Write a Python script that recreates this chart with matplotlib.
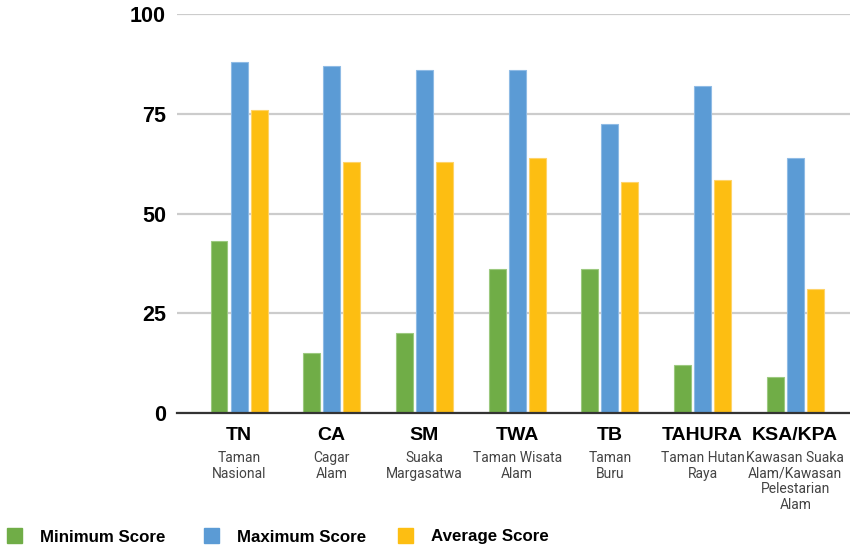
import matplotlib.pyplot as plt
import numpy as np
from matplotlib.patches import Rectangle

codes = ["TN", "CA", "SM", "TWA", "TB", "TAHURA", "KSA/KPA"]
names = [
    "Taman\nNasional",
    "Cagar\nAlam",
    "Suaka\nMargasatwa",
    "Taman Wisata\nAlam",
    "Taman\nBuru",
    "Taman Hutan\nRaya",
    "Kawasan Suaka\nAlam/Kawasan\nPelestarian\nAlam",
]
min_score = [43, 15, 20, 36, 36, 12, 9]
max_score = [88, 87, 86, 86, 72.5, 82, 64]
avg_score = [76, 63, 63, 64, 58, 58.5, 31]
series_labels = ["Minimum Score", "Maximum Score", "Average Score"]
yticks = [0, 25, 50, 75, 100]

colors = ["#70ad47", "#5b9bd5", "#fdbe12"]
edges = ["#9cc97f", "#8fbbe5", "#fed36a"]

W, H = 850, 549
fig = plt.figure(figsize=(8.5, 5.49), dpi=100)
ax = fig.add_axes([177 / W, (H - 413) / H, (850 - 177) / W, (413 - 14) / H])

x = np.arange(len(codes))
width = 0.183
step = 0.216
for i, (vals, c, e) in enumerate(zip([min_score, max_score, avg_score], colors, edges)):
    ax.bar(x + (i - 1) * step, vals, width=width, color=c, edgecolor=e,
           linewidth=0.8, zorder=3, label=series_labels[i])

ax.set_xlim(-0.669, 6.59)
ax.set_ylim(0, 100)
ax.set_yticks(yticks)
ax.set_yticklabels([str(t) for t in yticks], fontsize=15.5, fontweight="bold",
                   family="Liberation Sans")
ax.tick_params(axis="y", length=0, pad=8)
ax.set_xticks([])
ax.grid(axis="y", color="#cccccc", linewidth=1.6, zorder=0)
for s in ["top", "right", "left"]:
    ax.spines[s].set_visible(False)
ax.spines["bottom"].set_color("#333333")
ax.spines["bottom"].set_linewidth(1.6)
ax.spines["bottom"].set_zorder(4)

# category codes and full names under each group
for xi, code, name in zip(x, codes, names):
    ax.annotate(code, xy=(xi, 0), xycoords=("data", "axes fraction"),
                xytext=(0, -22), textcoords="offset pixels", ha="center", va="center",
                fontsize=14, fontweight="bold", family="Liberation Sans")
    ax.annotate(name, xy=(xi, 0), xycoords=("data", "axes fraction"),
                xytext=(0, -38), textcoords="offset pixels", ha="center", va="top",
                fontsize=10, color="#444444", family="Roboto", linespacing=1.15)

# legend along the bottom edge
legend_x = [7, 204, 398]
for lx, c, lab in zip(legend_x, colors, series_labels):
    fig.patches.append(Rectangle((lx / W, (H - 543) / H), 15 / W, 15 / H,
                                 transform=fig.transFigure, color=c))
    fig.text((lx + 33) / W, (H - 537) / H, lab, ha="left", va="center",
             fontsize=12.2, fontweight="bold", family="Liberation Sans")

fig.savefig("out.png", dpi=100)
